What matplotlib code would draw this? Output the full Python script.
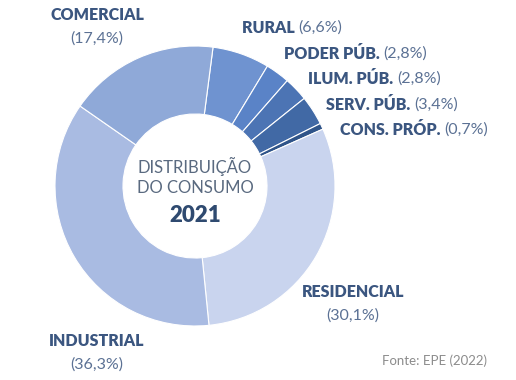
import matplotlib.pyplot as plt

plt.rcParams['font.family'] = ['Lato', 'DejaVu Sans']

setores = ["RURAL", "PODER PÚB.", "ILUM. PÚB.", "SERV. PÚB.", "CONS. PRÓP.",
           "RESIDENCIAL", "INDUSTRIAL", "COMERCIAL"]
percentuais = [6.6, 2.8, 2.8, 3.4, 0.7, 30.1, 36.3, 17.4]
cores = ["#6f93d0", "#5a83c7", "#4c74b4", "#4169a5", "#2f5489",
         "#c9d4ee", "#a9bbe2", "#8fa9d8"]

def fmt(v):
    return "(" + f"{v:.1f}".replace(".", ",") + "%)"

fig = plt.figure(figsize=(5.16, 3.8), dpi=100)
ax = fig.add_axes([0, 0, 1, 1])

H = 380
ax.pie(percentuais, colors=cores, startangle=82.6, counterclock=False,
       center=(195, H - 186), radius=140,
       wedgeprops=dict(width=68, edgecolor="white", linewidth=0.8))
ax.set_xlim(0, 516)
ax.set_ylim(0, H)
ax.set_aspect("equal")
ax.axis("off")

cor_titulo = "#3b5680"
cor_pct = "#5b7194"
fs = 11.5

# rótulos em duas linhas
for nome, v, x, y in [("COMERCIAL", 17.4, 97, 15), ("RESIDENCIAL", 30.1, 353, 292),
                      ("INDUSTRIAL", 36.3, 97, 341)]:
    ax.text(x, H - y, nome, ha="center", va="center", fontsize=fs,
            fontweight="heavy", color=cor_titulo)
    ax.text(x, H - y - 24, fmt(v), ha="center", va="center", fontsize=fs,
            color=cor_pct)

# rótulos em uma linha (fatias pequenas)
pos = {"RURAL": (242, 28), "PODER PÚB.": (284, 54), "ILUM. PÚB.": (308, 79),
       "SERV. PÚB.": (326, 105), "CONS. PRÓP.": (340, 130)}
for nome, v in zip(setores, percentuais):
    if nome not in pos:
        continue
    x, y = pos[nome]
    t = ax.text(x, H - y, nome + " ", ha="left", va="center", fontsize=fs,
                fontweight="heavy", color=cor_titulo)
    ax.annotate(fmt(v), xycoords=t, xy=(1, 0.5), va="center", ha="left",
                fontsize=fs, color=cor_pct)

ax.text(195, H - 166, "DISTRIBUIÇÃO", ha="center", va="center", fontsize=12, color="#5a6a80")
ax.text(195, H - 188, "DO CONSUMO", ha="center", va="center", fontsize=12, color="#5a6a80")
ax.text(195, H - 216, "2021", ha="center", va="center", fontsize=16,
        fontweight="heavy", color="#2f4a70")

ax.text(434, H - 361, "Fonte: EPE (2022)", ha="center", va="center", fontsize=9.5,
        color="#8c8c8c")

fig.savefig("out.png", dpi=100)
